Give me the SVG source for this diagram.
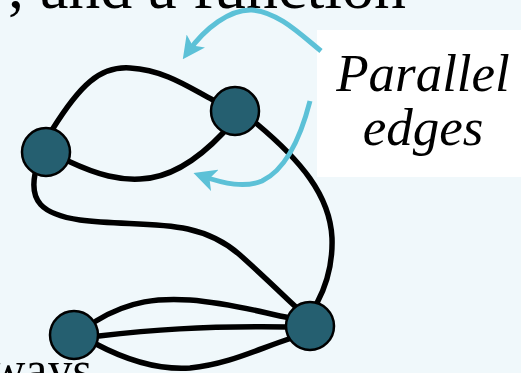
<svg xmlns="http://www.w3.org/2000/svg" width="521" height="373" viewBox="0 0 521 373">
<defs>
<style>
.bg{fill:#f0f8fb}
.t{font-family:"Liberation Serif","Times New Roman",serif;fill:#000}
.e{fill:none;stroke:#000;stroke-width:5.5;stroke-linecap:round}
.a{fill:none;stroke:#5cc1d7;stroke-width:5}
.n{fill:#255f70;stroke:#000;stroke-width:2.5}
</style>
<marker id="ah" viewBox="0 0 10 10" refX="6" refY="5" markerWidth="4.5" markerHeight="4.5" orient="auto" markerUnits="strokeWidth">
<path d="M0,0 L10,5 L0,10 L2.5,5 Z" fill="#5cc1d7"/>
</marker>
</defs>
<rect class="bg" x="0" y="0" width="521" height="373"/>
<rect x="317" y="30" width="204" height="147" fill="#ffffff"/>
<text class="t" x="406" y="8" font-size="64" text-anchor="end">, and a function</text>
<text class="t" x="92" y="386" font-size="50" text-anchor="end">ways</text>
<g id="edges">
<path class="e" d="M52,130 C80,85 100,66 130,68 C165,70 190,88 213,100"/>
<path class="e" d="M68,161 C100,176 120,180 140,179 C175,178 205,152 223,133"/>
<path class="e" d="M35,174 C30,200 40,214 80,220 C140,228 195,215 240,255 C270,282 288,300 297,308"/>
<path class="e" d="M257,124 C300,160 330,195 332,238 C333,268 325,288 317,303"/>
<path class="e" d="M96,321 C130,300 160,298 190,300 C230,303 260,312 290,318"/>
<path class="e" d="M99,336 C150,330 200,326 287,327"/>
<path class="e" d="M96,344 C130,362 160,370 190,368 C230,364 260,348 292,338"/>
</g>
<g id="arrows">
<path class="a" d="M321,51 C300,34 278,12 252,10 C230,9 205,28 188,52" marker-end="url(#ah)"/>
<path class="a" d="M310,101 C300,140 285,170 262,181 C245,188 225,184 202,176" marker-end="url(#ah)"/>
</g>
<g id="nodeA"><circle class="n" cx="46" cy="152" r="24"/></g>
<g id="nodeB"><circle class="n" cx="235" cy="111" r="24"/></g>
<g id="nodeC"><circle class="n" cx="74" cy="335" r="24"/></g>
<g id="nodeD"><circle class="n" cx="310" cy="326" r="24"/></g>
<g id="label">
<text class="t" x="423" y="91" font-size="53" font-style="italic" text-anchor="middle">Parallel</text>
<text class="t" x="423" y="145" font-size="53" font-style="italic" text-anchor="middle">edges</text>
</g>
</svg>
